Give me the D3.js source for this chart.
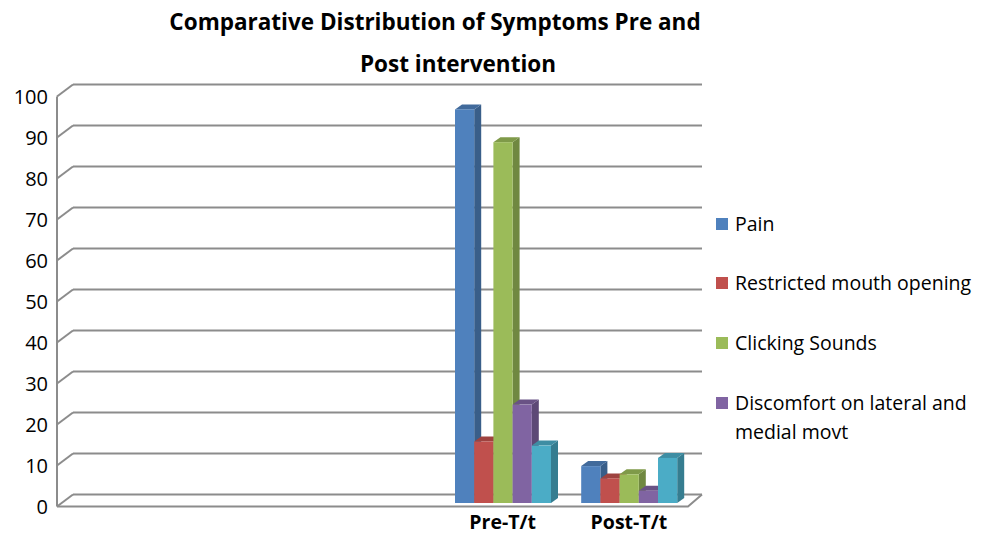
<!DOCTYPE html>
<html>
<head>
<meta charset="utf-8">
<script src="https://cdn.jsdelivr.net/npm/d3@7"></script>
<style>
  html, body { margin: 0; padding: 0; background: #fff; }
  svg { display: block; }
  text { font-family: "Open Sans", "Noto Sans", sans-serif; fill: #000; }
</style>
</head>
<body>
<svg id="chart" width="987" height="534"></svg>
<script>
// ---- data ----
const categories = ["", "", "", "Pre-T/t", "Post-T/t"];
const seriesNames = ["Pain", "Restricted mouth opening", "Clicking Sounds", "Discomfort on lateral and medial movt", ""];
const painValues        = [null, null, null, 96, 9];
const restrictedValues  = [null, null, null, 15, 6];
const clickingValues    = [null, null, null, 88, 7];
const discomfortValues  = [null, null, null, 24, 3];
const series5Values     = [null, null, null, 14, 11];
const yTicks = [0, 10, 20, 30, 40, 50, 60, 70, 80, 90, 100];
const titleLines = ["Comparative Distribution of Symptoms Pre and", "Post intervention"];
const legendLines = [["Pain"], ["Restricted mouth opening"], ["Clicking Sounds"], ["Discomfort on lateral and", "medial movt"]];

const seriesValues = [painValues, restrictedValues, clickingValues, discomfortValues, series5Values];
const colors = ["#4F81BD", "#C0504D", "#9BBB59", "#8064A2", "#4BACC6"];

// ---- layout ----
const svg = d3.select("#chart");
const frontLeft = 57, frontRight = 688;
const depthX = 16, depthY = -12;
const y = d3.scaleLinear().domain([0, 100]).range([506.5, 96.5]);
const x0 = d3.scaleBand().domain(d3.range(categories.length)).range([frontLeft, frontRight]).paddingInner(0).paddingOuter(0);
const groupW = 96;
const x1 = d3.scaleBand().domain(d3.range(seriesValues.length)).range([0, groupW]).padding(0);

const gridColor = "#8c8c8c";

// back wall gridlines + left diagonals
const grid = svg.append("g");
yTicks.forEach(t => {
  const yf = y(t);
  grid.append("line")
    .attr("x1", frontLeft + depthX).attr("x2", frontRight + 14)
    .attr("y1", yf + depthY).attr("y2", yf + depthY)
    .attr("stroke", gridColor).attr("stroke-width", 2);
  grid.append("line")
    .attr("x1", frontLeft).attr("y1", yf)
    .attr("x2", frontLeft + depthX).attr("y2", yf + depthY)
    .attr("stroke", gridColor).attr("stroke-width", 2);
});
grid.append("line")
  .attr("x1", frontLeft).attr("x2", frontLeft)
  .attr("y1", y(100)).attr("y2", y(0))
  .attr("stroke", gridColor).attr("stroke-width", 2);
grid.append("path")
  .attr("d", `M${frontLeft},${y(0)}L${frontRight},${y(0)}L${frontRight + 14},${y(0) + depthY}`)
  .attr("fill", "none").attr("stroke", gridColor).attr("stroke-width", 2);

// ---- y labels ----
const yAxis = d3.axisLeft(y).tickValues(yTicks).tickSize(0).tickPadding(0);
const yAxisG = svg.append("g").attr("transform", "translate(48,0)").call(yAxis);
yAxisG.select(".domain").remove();
yAxisG.selectAll("text")
  .style("font-family", "'Open Sans', sans-serif")
  .style("font-size", "20px")
  .attr("fill", "#000")
  .attr("dy", "0.36em");

// ---- bars (3D) ----
const barOffX = 4.3, barOffY = -3.5;
const barDX = 7, barDY = -5;
const bars = svg.append("g");
categories.forEach((c, ci) => {
  const gx = x0(ci) + (x0.bandwidth() - groupW) / 2 + barOffX;
  seriesValues.forEach((vals, si) => {
    const v = vals[ci];
    if (v == null) return;
    const bx = gx + x1(si);
    const bw = x1.bandwidth();
    const yTop = y(v) + barOffY;
    const yBot = y(0) + barOffY;
    const col = d3.color(colors[si]);
    bars.append("path")
      .attr("d", `M${bx + bw},${yTop}L${bx + bw + barDX},${yTop + barDY}L${bx + bw + barDX},${yBot + barDY}L${bx + bw},${yBot}Z`)
      .attr("fill", col.darker(0.9));
    bars.append("path")
      .attr("d", `M${bx},${yTop}L${bx + barDX},${yTop + barDY}L${bx + bw + barDX},${yTop + barDY}L${bx + bw},${yTop}Z`)
      .attr("fill", col.darker(0.55));
    bars.append("rect")
      .attr("x", bx).attr("y", yTop)
      .attr("width", bw).attr("height", yBot - yTop)
      .attr("fill", colors[si]);
  });
});

// ---- x labels ----
const xLab = svg.append("g");
categories.forEach((c, ci) => {
  if (!c) return;
  xLab.append("text")
    .attr("x", x0(ci) + x0.bandwidth() / 2 + 4)
    .attr("y", 529)
    .attr("text-anchor", "middle")
    .style("font-size", "19.5px").style("font-weight", "bold")
    .text(c);
});

// ---- title ----
svg.append("text").attr("x", 435).attr("y", 30).attr("text-anchor", "middle")
  .style("font-size", "22.5px").style("font-weight", "bold").text(titleLines[0]);
svg.append("text").attr("x", 458).attr("y", 72).attr("text-anchor", "middle")
  .style("font-size", "22.5px").style("font-weight", "bold").text(titleLines[1]);

// ---- legend ----
const legendY = [224, 283, 343, 403];
const lg = svg.append("g");
legendLines.forEach((lines, i) => {
  lg.append("rect").attr("x", 716).attr("y", legendY[i] - 6).attr("width", 12).attr("height", 12)
    .attr("fill", colors[i]);
  lines.forEach((ln, k) => {
    lg.append("text").attr("x", 735).attr("y", legendY[i] + 6.5 + k * 29)
      .style("font-size", "19.5px").text(ln);
  });
});
</script>
</body>
</html>
